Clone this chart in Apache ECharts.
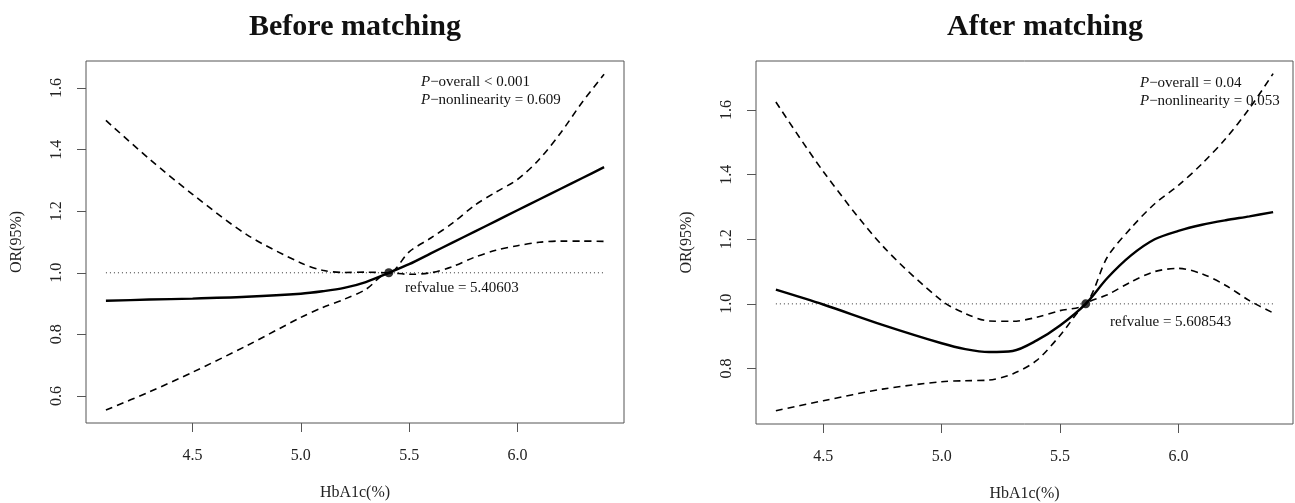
<!DOCTYPE html>
<html>
<head>
<meta charset="utf-8">
<script src="https://cdn.jsdelivr.net/npm/echarts@6/dist/echarts.min.js"></script>
<style>
  html, body { margin: 0; padding: 0; background: #fff; }
  #chart { width: 1295px; height: 503px; }
</style>
</head>
<body>
<div id="chart"></div>
<script>
// before matching
const xBefore = [4.1, 4.3, 4.5, 4.75, 5.0, 5.1, 5.2, 5.3, 5.40603, 5.5, 5.6, 5.7, 5.8, 5.9, 6.0, 6.1, 6.2, 6.3, 6.4];
const orBefore = [0.909, 0.913, 0.916, 0.922, 0.932, 0.94, 0.951, 0.970, 1.0, 1.028, 1.063, 1.098, 1.133, 1.168, 1.203, 1.238, 1.273, 1.308, 1.343];
const upBefore = [1.495, 1.37, 1.255, 1.124, 1.032, 1.008, 1.001, 1.002, 1.0, 1.068, 1.113, 1.161, 1.218, 1.262, 1.303, 1.368, 1.455, 1.555, 1.645];
const loBefore = [0.554, 0.613, 0.677, 0.763, 0.855, 0.887, 0.914, 0.946, 1.0, 0.995, 1.0, 1.02, 1.05, 1.073, 1.088, 1.099, 1.103, 1.103, 1.102];

// after matching
const xAfter = [4.3, 4.5, 4.75, 5.0, 5.1, 5.2, 5.3, 5.4, 5.5, 5.608543, 5.7, 5.8, 5.9, 6.0, 6.1, 6.2, 6.3, 6.4];
const orAfter = [1.044, 0.998, 0.935, 0.878, 0.860, 0.851, 0.854, 0.886, 0.933, 1.0, 1.08, 1.15, 1.2, 1.226, 1.245, 1.259, 1.271, 1.284];
const upAfter = [1.625, 1.41, 1.18, 1.01, 0.97, 0.947, 0.946, 0.958, 0.979, 1.0, 1.145, 1.235, 1.31, 1.367, 1.434, 1.512, 1.605, 1.713];
const loAfter = [0.669, 0.700, 0.736, 0.759, 0.762, 0.764, 0.783, 0.824, 0.902, 1.0, 1.028, 1.068, 1.1, 1.11, 1.093, 1.057, 1.01, 0.972];

const refBefore = 5.40603;
const refAfter = 5.608543;

const xTicks = [4.5, 5.0, 5.5, 6.0];
const yTicksBefore = [0.6, 0.8, 1.0, 1.2, 1.4, 1.6];
const yTicksAfter = [0.8, 1.0, 1.2, 1.4, 1.6];

const serif = '"Liberation Serif", "DejaVu Serif", serif';

function zip(xs, ys) {
  return xs.map((x, i) => [x, ys[i]]);
}

function xAxisFor(idx, min, max) {
  return {
    type: 'value', gridIndex: idx, min: min, max: max,
    name: 'HbA1c(%)', nameLocation: 'middle', nameGap: 62,
    nameTextStyle: { fontFamily: serif, fontSize: 16, color: '#222' },
    axisLine: { show: false },
    axisTick: { show: true, customValues: xTicks, length: 9, lineStyle: { color: '#555' } },
    axisLabel: {
      customValues: xTicks, margin: 25, fontFamily: serif, fontSize: 16, color: '#222',
      formatter: v => v.toFixed(1)
    },
    splitLine: { show: false }
  };
}

function yAxisFor(idx, min, max, ticks) {
  return {
    type: 'value', gridIndex: idx, min: min, max: max,
    name: 'OR(95%)', nameLocation: 'middle', nameGap: 61, nameRotate: 90,
    nameTextStyle: { fontFamily: serif, fontSize: 16, color: '#222' },
    axisLine: { show: false },
    axisTick: { show: true, customValues: ticks, length: 9, lineStyle: { color: '#555' } },
    axisLabel: {
      customValues: ticks, rotate: 90, margin: 21, fontFamily: serif, fontSize: 16, color: '#222',
      formatter: v => v.toFixed(1)
    },
    splitLine: { show: false }
  };
}

function seriesFor(idx, xs, or, up, lo, ref) {
  const base = { type: 'line', xAxisIndex: idx, yAxisIndex: idx, symbol: 'none', smooth: 0.3, silent: true };
  return [
    Object.assign({}, base, {
      data: [[xs[0], 1], [xs[xs.length - 1], 1]], smooth: false,
      lineStyle: { color: '#333', width: 1, type: [1, 3] }
    }),
    Object.assign({}, base, { data: zip(xs, up), lineStyle: { color: '#000', width: 1.6, type: [7, 5] } }),
    Object.assign({}, base, { data: zip(xs, lo), lineStyle: { color: '#000', width: 1.6, type: [7, 5] } }),
    Object.assign({}, base, { data: zip(xs, or), lineStyle: { color: '#000', width: 2.4 } }),
    {
      type: 'scatter', xAxisIndex: idx, yAxisIndex: idx, silent: true,
      data: [[ref, 1]], symbolSize: 9, itemStyle: { color: '#000' }
    }
  ];
}

function textEl(x, y, str, size, bold, align) {
  return {
    type: 'text', x: x, y: y, silent: true,
    style: {
      text: str, fill: '#111', align: align || 'left', verticalAlign: 'middle',
      font: (bold ? 'bold ' : '') + size + 'px ' + serif,
      rich: { i: { fontStyle: 'italic', fontFamily: serif, fontSize: size, fill: '#111' } }
    }
  };
}

const chart = echarts.init(document.getElementById('chart'));
chart.setOption({
  animation: false,
  backgroundColor: '#fff',
  grid: [
    { left: 86, top: 61, width: 538, height: 362, show: true, borderColor: '#555', borderWidth: 1, outerBoundsMode: 'none' },
    { left: 756, top: 61, width: 537, height: 363, show: true, borderColor: '#555', borderWidth: 1, outerBoundsMode: 'none' }
  ],
  xAxis: [xAxisFor(0, 4.008, 6.492), xAxisFor(1, 4.216, 6.484)],
  yAxis: [yAxisFor(0, 0.512, 1.688, yTicksBefore), yAxisFor(1, 0.628, 1.752, yTicksAfter)],
  series: seriesFor(0, xBefore, orBefore, upBefore, loBefore, refBefore)
    .concat(seriesFor(1, xAfter, orAfter, upAfter, loAfter, refAfter)),
  graphic: [
    textEl(355, 27, 'Before matching', 30, true, 'center'),
    textEl(1045, 27, 'After matching', 30, true, 'center'),
    textEl(421, 82, '{i|P}−overall < 0.001', 15),
    textEl(421, 100, '{i|P}−nonlinearity = 0.609', 15),
    textEl(405, 288, 'refvalue = 5.40603', 15),
    textEl(1140, 83, '{i|P}−overall = 0.04', 15),
    textEl(1140, 101, '{i|P}−nonlinearity = 0.053', 15),
    textEl(1110, 322, 'refvalue = 5.608543', 15)
  ]
});
</script>
</body>
</html>
